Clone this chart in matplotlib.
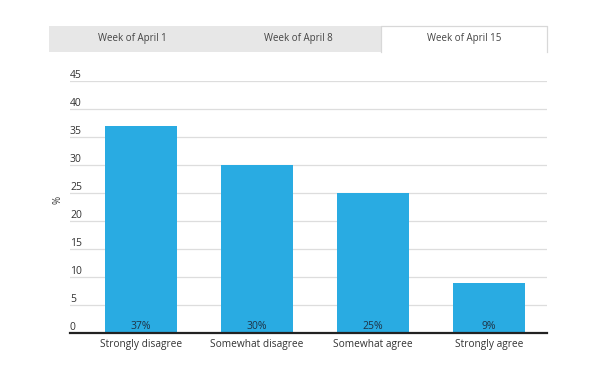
import numpy as np
import matplotlib
matplotlib.use("Agg")
import matplotlib.pyplot as plt
import matplotlib.patches as ptc
import matplotlib.lines as lin

plt.rcParams['font.family'] = ['Open Sans', 'DejaVu Sans']

# data
categories = ['Strongly disagree', 'Somewhat disagree', 'Somewhat agree', 'Strongly agree']
values = [37, 30, 25, 9]
value_labels = ['37%', '30%', '25%', '9%']
yticks = [0, 5, 10, 15, 20, 25, 30, 35, 40, 45]
tabs = ['Week of April 1', 'Week of April 8', 'Week of April 15']
active_tab = 2

W, H = 600, 373
bar_color = '#29abe2'
text_color = '#333333'
grid_color = '#dddddd'

fig = plt.figure(figsize=(W / 100, H / 100), dpi=100)

# tab strip on top
tab_x0, tab_x1, tab_y0, tab_y1 = 49, 547, 26, 52
tab_w = (tab_x1 - tab_x0) / len(tabs)
for i, name in enumerate(tabs):
    x = tab_x0 + i * tab_w
    fc = 'white' if i == active_tab else '#e7e7e7'
    fig.patches.append(ptc.Rectangle((x / W, 1 - tab_y1 / H), tab_w / W, (tab_y1 - tab_y0) / H,
                                     transform=fig.transFigure, facecolor=fc, edgecolor='none'))
    if i == active_tab:
        # border on top, left and right only
        xs = [x / W, x / W, (x + tab_w) / W, (x + tab_w) / W]
        ys = [1 - tab_y1 / H, 1 - tab_y0 / H, 1 - tab_y0 / H, 1 - tab_y1 / H]
        fig.lines.append(lin.Line2D(xs, ys, transform=fig.transFigure, color='#d8d8d8', lw=0.9))
    fig.text((x + tab_w / 2) / W, 1 - (tab_y0 + tab_y1) / 2 / H, name, ha='center', va='center',
             fontsize=7, color='#444444')

# plot area in pixels
left, right, zero_y, top_y = 70, 547, 333, 81
ax = fig.add_axes([left / W, 1 - zero_y / H, (right - left) / W, (zero_y - top_y) / H])

x = np.arange(len(categories))
ax.bar(x, values, width=0.62, color=bar_color, zorder=2)

ax.set_xlim(-0.612, 3.5)
ax.set_ylim(0, 45)

for v in yticks[1:]:
    ax.axhline(v, color=grid_color, lw=0.9, zorder=1)
for v in yticks:
    ax.annotate(str(v), xy=(0, v), xycoords=ax.get_yaxis_transform(), xytext=(0, 4),
                textcoords='offset points', ha='left', va='center', fontsize=7.5, color=text_color)

for xi, lab in zip(x, value_labels):
    ax.annotate(lab, xy=(xi, 0), xytext=(0, 4.5), textcoords='offset points',
                ha='center', va='center', fontsize=7.5, color='#1e3346', zorder=3)

ax.set_xticks(x)
ax.set_xticklabels(categories, fontsize=7.3, color=text_color)
ax.tick_params(axis='x', length=0, pad=4)
ax.set_yticks([])

for s in ['top', 'right', 'left']:
    ax.spines[s].set_visible(False)
ax.spines['bottom'].set_color('#222222')
ax.spines['bottom'].set_linewidth(1.6)
ax.spines['bottom'].set_zorder(4)

fig.text(58 / W, 1 - 200 / H, '%', rotation=90, ha='center', va='center', fontsize=7, color=text_color)

fig.savefig('out.png', dpi=100)
